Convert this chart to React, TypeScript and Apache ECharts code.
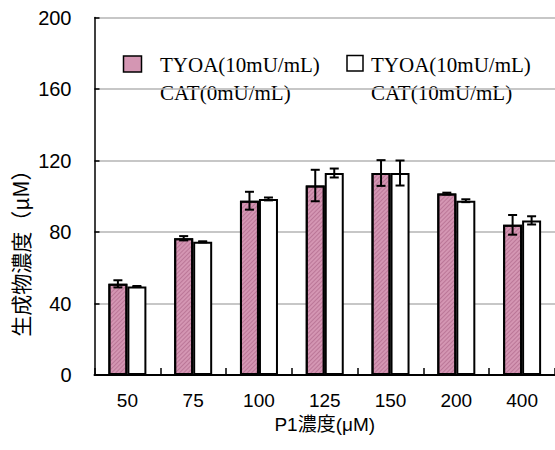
import React, { useEffect, useRef } from "react";
import * as echarts from "echarts";

const categories = ["50", "75", "100", "125", "150", "200", "400"];
const seriesNames = ["TYOA(10mU/mL)\nCAT(0mU/mL)", "TYOA(10mU/mL)\nCAT(10mU/mL)"];
const valuesCat0 = [51, 76.5, 97.5, 106, 113, 101.5, 84];
const errorsCat0 = [2, 1.2, 5, 8.8, 7.2, 0.5, 5.5];
const valuesCat10 = [49.5, 74.5, 98.5, 113, 113, 97.5, 86.5];
const errorsCat10 = [0.3, 0.3, 0.8, 2.5, 7, 0.8, 2.3];
const yTicks = { min: 0, max: 200, interval: 40 };

const BAR_W = 19;

function errData(vals: number[], errs: number[]) {
  return vals.map((v, i) => [i, v - errs[i], v + errs[i]]);
}

function errSeries(vals: number[], errs: number[], offset: number) {
  return {
    type: "custom",
    silent: true,
    z: 10,
    renderItem: (params: any, api: any) => {
      const idx = api.value(0);
      const lo = api.coord([idx, api.value(1)]);
      const hi = api.coord([idx, api.value(2)]);
      const x = lo[0] + offset;
      const cap = 4.5;
      const style = { stroke: "#000", lineWidth: 2 };
      return {
        type: "group",
        children: [
          { type: "line", shape: { x1: x, y1: lo[1], x2: x, y2: hi[1] }, style },
          { type: "line", shape: { x1: x - cap, y1: lo[1], x2: x + cap, y2: lo[1] }, style },
          { type: "line", shape: { x1: x - cap, y1: hi[1], x2: x + cap, y2: hi[1] }, style },
        ],
      };
    },
    data: errData(vals, errs),
  };
}

export default function App() {
  const ref = useRef<HTMLDivElement>(null);
  useEffect(() => {
    if (!ref.current) return;
    const chart = echarts.init(ref.current, undefined, { renderer: "svg" });
    const pinkDecal = {
      symbol: "rect",
      symbolSize: 1,
      dashArrayX: [1, 0],
      dashArrayY: [1, 2],
      rotation: -Math.PI / 4,
      color: "rgba(140,60,100,0.35)",
    };
    chart.setOption({
      animation: false,
      backgroundColor: "#fff",
      grid: { left: 94.5, right: -2, top: 17.5, bottom: 75, containLabel: false },
      xAxis: {
        type: "category",
        data: categories,
        axisLine: { lineStyle: { color: "#000", width: 2 } },
        axisTick: { show: true, inside: true, length: 7, interval: 0, lineStyle: { color: "#000", width: 1.5 } },
        axisLabel: { color: "#000", fontSize: 19, fontFamily: "Liberation Sans, Arial", margin: 16 },
        name: "P1濃度(μM)",
        nameLocation: "middle",
        nameGap: 37,
        nameTextStyle: { color: "#000", fontSize: 19, fontFamily: "Liberation Sans, Noto Sans CJK JP" },
      },
      yAxis: {
        type: "value",
        min: yTicks.min,
        max: yTicks.max,
        interval: yTicks.interval,
        axisLine: { show: true, lineStyle: { color: "#000", width: 1.5 } },
        axisTick: { show: true, inside: true, length: 5, lineStyle: { color: "#000", width: 1.5 } },
        axisLabel: { color: "#000", fontSize: 20, fontFamily: "Liberation Sans, Arial", margin: 23 },
        splitLine: { show: true, lineStyle: { color: "#b4b4b4", width: 1.5 } },
      },
      series: [
        {
          name: seriesNames[0],
          type: "bar",
          data: valuesCat0,
          barWidth: BAR_W,
          barGap: "0%",
          itemStyle: { color: "#d496b3", borderColor: "#000", borderWidth: 2, decal: pinkDecal },
        },
        {
          name: seriesNames[1],
          type: "bar",
          data: valuesCat10,
          barWidth: BAR_W,
          barGap: "0%",
          itemStyle: { color: "#fff", borderColor: "#000", borderWidth: 2 },
        },
        errSeries(valuesCat0, errorsCat0, -BAR_W / 2),
        errSeries(valuesCat10, errorsCat10, BAR_W / 2),
      ],
      graphic: [
        {
          type: "text",
          x: 20,
          y: 248,
          rotation: Math.PI / 2,
          style: {
            text: "生成物濃度（μM）",
            fill: "#000",
            font: "21px 'Noto Sans CJK JP', 'Liberation Sans'",
            align: "center",
            verticalAlign: "middle",
          },
        },
        {
          type: "rect",
          shape: { x: 123.5, y: 56, width: 18, height: 16 },
          style: { fill: "#d496b3", stroke: "#000", lineWidth: 1.5 },
        },
        {
          type: "text",
          x: 160,
          y: 51,
          style: {
            text: seriesNames[0],
            fill: "#000",
            font: "21px 'Liberation Serif', 'Times New Roman'",
            lineHeight: 28,
            verticalAlign: "top",
          },
        },
        {
          type: "rect",
          shape: { x: 347, y: 55.5, width: 16, height: 15.5 },
          style: { fill: "#fff", stroke: "#000", lineWidth: 1.5 },
        },
        {
          type: "text",
          x: 371,
          y: 51,
          style: {
            text: seriesNames[1],
            fill: "#000",
            font: "21px 'Liberation Serif', 'Times New Roman'",
            lineHeight: 28,
            verticalAlign: "top",
          },
        },
      ],
    });
    return () => chart.dispose();
  }, []);
  return <div ref={ref} style={{ width: 555, height: 450, position: "absolute", left: 0, top: 0 }} />;
}
